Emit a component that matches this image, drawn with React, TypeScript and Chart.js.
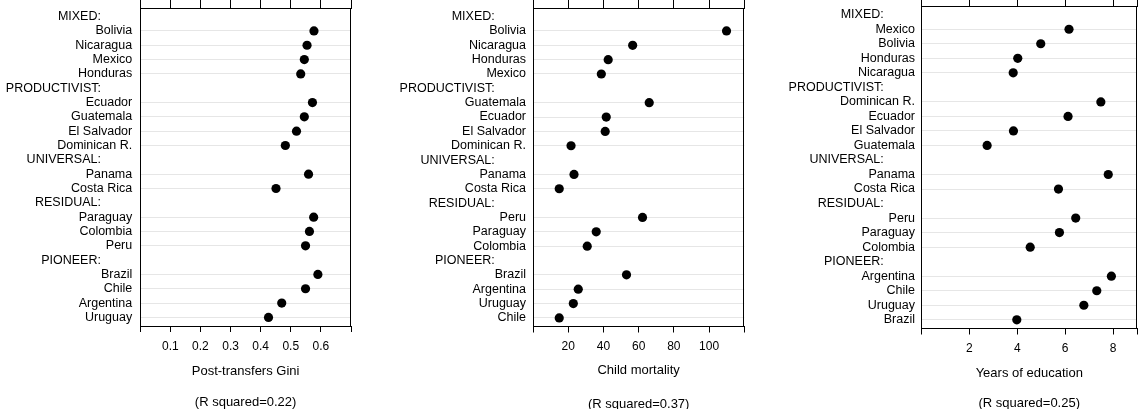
import React, { useEffect, useRef } from "react";
import { Chart, registerables } from "chart.js";
Chart.register(...registerables);

// ---------- data ----------
const giniCategories = ["MIXED:", "Bolivia", "Nicaragua", "Mexico", "Honduras", "PRODUCTIVIST:", "Ecuador", "Guatemala", "El Salvador", "Dominican R.", "UNIVERSAL:", "Panama", "Costa Rica", "RESIDUAL:", "Paraguay", "Colombia", "Peru", "PIONEER:", "Brazil", "Chile", "Argentina", "Uruguay"];
const giniValues = [null, 0.577, 0.554, 0.545, 0.533, null, 0.572, 0.545, 0.519, 0.482, null, 0.559, 0.451, null, 0.576, 0.562, 0.549, null, 0.59, 0.549, 0.47, 0.426];
const giniTicks = [0, 0.1, 0.2, 0.3, 0.4, 0.5, 0.6, 0.7];
const giniTickLabels = ["", "0.1", "0.2", "0.3", "0.4", "0.5", "0.6", ""];

const mortalityCategories = ["MIXED:", "Bolivia", "Nicaragua", "Honduras", "Mexico", "PRODUCTIVIST:", "Guatemala", "Ecuador", "El Salvador", "Dominican R.", "UNIVERSAL:", "Panama", "Costa Rica", "RESIDUAL:", "Peru", "Paraguay", "Colombia", "PIONEER:", "Brazil", "Argentina", "Uruguay", "Chile"];
const mortalityValues = [null, 109.9, 56.6, 42.7, 38.8, null, 66.0, 41.6, 41.0, 21.6, null, 23.3, 14.9, null, 62.2, 35.9, 30.8, null, 53.1, 25.7, 22.9, 14.9];
const mortalityTicks = [0, 20, 40, 60, 80, 100, 120];
const mortalityTickLabels = ["", "20", "40", "60", "80", "100", ""];

const educationCategories = ["MIXED:", "Mexico", "Bolivia", "Honduras", "Nicaragua", "PRODUCTIVIST:", "Dominican R.", "Ecuador", "El Salvador", "Guatemala", "UNIVERSAL:", "Panama", "Costa Rica", "RESIDUAL:", "Peru", "Paraguay", "Colombia", "PIONEER:", "Argentina", "Chile", "Uruguay", "Brazil"];
const educationValues = [null, 6.16, 4.98, 4.02, 3.83, null, 7.49, 6.12, 3.84, 2.74, null, 7.8, 5.72, null, 6.44, 5.76, 4.54, null, 7.93, 7.32, 6.78, 3.98];
const educationTicks = [0, 2, 4, 6, 8, 9];
const educationTickLabels = ["", "2", "4", "6", "8", ""];

const FONT = "'Liberation Sans', Arial, Helvetica, sans-serif";

type Panel = {
  left: number; width: number;
  categories: string[]; values: (number | null)[];
  ticks: number[]; tickLabels: string[];
  xTitle: string; rsq: string;
  chartLeft: number; chartRight: number; chartTop: number; chartBottom: number;
  labelGap: number; titleY: number; rsqLH: number;
};

const panels: Panel[] = [
  { left: 0, width: 360, categories: giniCategories, values: giniValues, ticks: giniTicks, tickLabels: giniTickLabels,
    xTitle: "Post-transfers Gini", rsq: "(R squared=0.22)",
    chartLeft: 140.2, chartRight: 351, chartTop: 8, chartBottom: 326, labelGap: 8, titleY: 371, rsqLH: 1.08 },
  { left: 380, width: 370, categories: mortalityCategories, values: mortalityValues, ticks: mortalityTicks, tickLabels: mortalityTickLabels,
    xTitle: "Child mortality", rsq: "(R squared=0.37)",
    chartLeft: 153, chartRight: 364.3, chartTop: 8, chartBottom: 326.5, labelGap: 7, titleY: 370.7, rsqLH: 0.77 },
  { left: 760, width: 383, categories: educationCategories, values: educationValues, ticks: educationTicks, tickLabels: educationTickLabels,
    xTitle: "Years of education", rsq: "(R squared=0.25)",
    chartLeft: 161.5, chartRight: 377, chartTop: 6, chartBottom: 328.5, labelGap: 6.5, titleY: 373.3, rsqLH: 0.92 },
];

const framePlugin = {
  id: "frame",
  afterDraw(chart: any) {
    const { ctx, chartArea: a } = chart;
    ctx.save();
    ctx.strokeStyle = "#000";
    ctx.lineWidth = 1;
    ctx.beginPath();
    const x = Math.round(a.right) - 0.5;
    ctx.moveTo(x, a.top);
    ctx.lineTo(x, a.bottom);
    ctx.stroke();
    ctx.restore();
  },
};

function PanelChart({ p }: { p: Panel }) {
  const ref = useRef<HTMLCanvasElement | null>(null);
  useEffect(() => {
    if (!ref.current) return;
    const isHeader = (i: number) => (p.categories[i] || "").endsWith(":");
    const shown = p.categories.map((c, i) => (isHeader(i) ? c + "\u00A0".repeat(9) : c));
    const min = p.ticks[0];
    const max = p.ticks[p.ticks.length - 1];
    const titleH = 13 * p.rsqLH;
    const bottomH = 409 - titleH - p.chartBottom;
    const titlePadBottom = 409 - titleH - 7.8 - p.titleY;
    const points = p.values
      .map((v, i) => (v == null ? null : { x: v, y: i }))
      .filter((d) => d !== null);
    const chart = new Chart(ref.current, {
      type: "scatter",
      data: {
        datasets: [{
          data: points as any,
          pointRadius: 4.6,
          pointHoverRadius: 4.6,
          pointBackgroundColor: "#000",
          pointBorderWidth: 0,
          showLine: false,
          clip: false as any,
        }],
      },
      options: {
        animation: false,
        responsive: false,
        events: [],
        layout: { padding: { left: 0, top: 0, right: p.width - p.chartRight, bottom: 0 } },
        plugins: {
          legend: { display: false },
          tooltip: { enabled: false },
          title: {
            display: true, text: p.rsq, position: "bottom", fullSize: false, color: "#000",
            font: { size: 13, family: FONT, weight: "normal", lineHeight: p.rsqLH }, padding: 0,
          },
        },
        scales: {
          x: {
            type: "linear", position: "bottom", min, max,
            afterBuildTicks: (s: any) => { s.ticks = p.ticks.map((v) => ({ value: v })); },
            afterFit: (s: any) => { s.height = bottomH; s.paddingLeft = 0; s.paddingRight = 0; },
            ticks: {
              autoSkip: false, maxRotation: 0, padding: 7, color: "#000",
              font: { size: 12, family: FONT },
              callback: (_v: any, i: number) => p.tickLabels[i],
            },
            grid: { drawOnChartArea: false, drawTicks: true, tickLength: 6, color: "#000", lineWidth: 1 },
            border: { display: true, color: "#000", width: 1 },
            title: {
              display: true, text: p.xTitle, color: "#000",
              font: { size: 13, family: FONT }, padding: { top: 0, bottom: titlePadBottom },
            },
          },
          x2: {
            type: "linear", position: "top", min, max,
            afterBuildTicks: (s: any) => { s.ticks = p.ticks.map((v) => ({ value: v })); },
            afterFit: (s: any) => { s.height = p.chartTop; s.paddingLeft = 0; s.paddingRight = 0; },
            ticks: { display: false },
            grid: { drawOnChartArea: false, drawTicks: true, tickLength: 8, color: "#000", lineWidth: 1 },
            border: { display: true, color: "#000", width: 1 },
          },
          y: {
            type: "linear", position: "left", reverse: true,
            min: -0.6, max: p.categories.length - 1 + 0.6,
            afterBuildTicks: (s: any) => { s.ticks = p.categories.map((_c, i) => ({ value: i })); },
            afterFit: (s: any) => { s.width = p.chartLeft; s.paddingTop = 0; s.paddingBottom = 0; },
            ticks: {
              autoSkip: false, padding: p.labelGap, color: "#000",
              font: { size: 12.5, family: FONT },
              callback: (_v: any, i: number) => shown[i],
            },
            grid: {
              drawTicks: false, lineWidth: 1,
              color: (ctx: any) => (isHeader(ctx.index) ? "rgba(0,0,0,0)" : "#e6e6e6"),
            },
            border: { display: true, color: "#000", width: 1 },
          },
        },
      } as any,
      plugins: [framePlugin],
    });
    return () => chart.destroy();
  }, [p]);
  return (
    <canvas
      ref={ref}
      width={p.width}
      height={409}
      style={{ position: "absolute", left: p.left, top: 0, width: p.width, height: 409 }}
    />
  );
}

export default function App() {
  return (
    <div style={{ position: "fixed", left: 0, top: 0, width: 1143, height: 409, background: "#fff", overflow: "hidden" }}>
      {panels.map((p, i) => (
        <PanelChart key={i} p={p} />
      ))}
    </div>
  );
}
